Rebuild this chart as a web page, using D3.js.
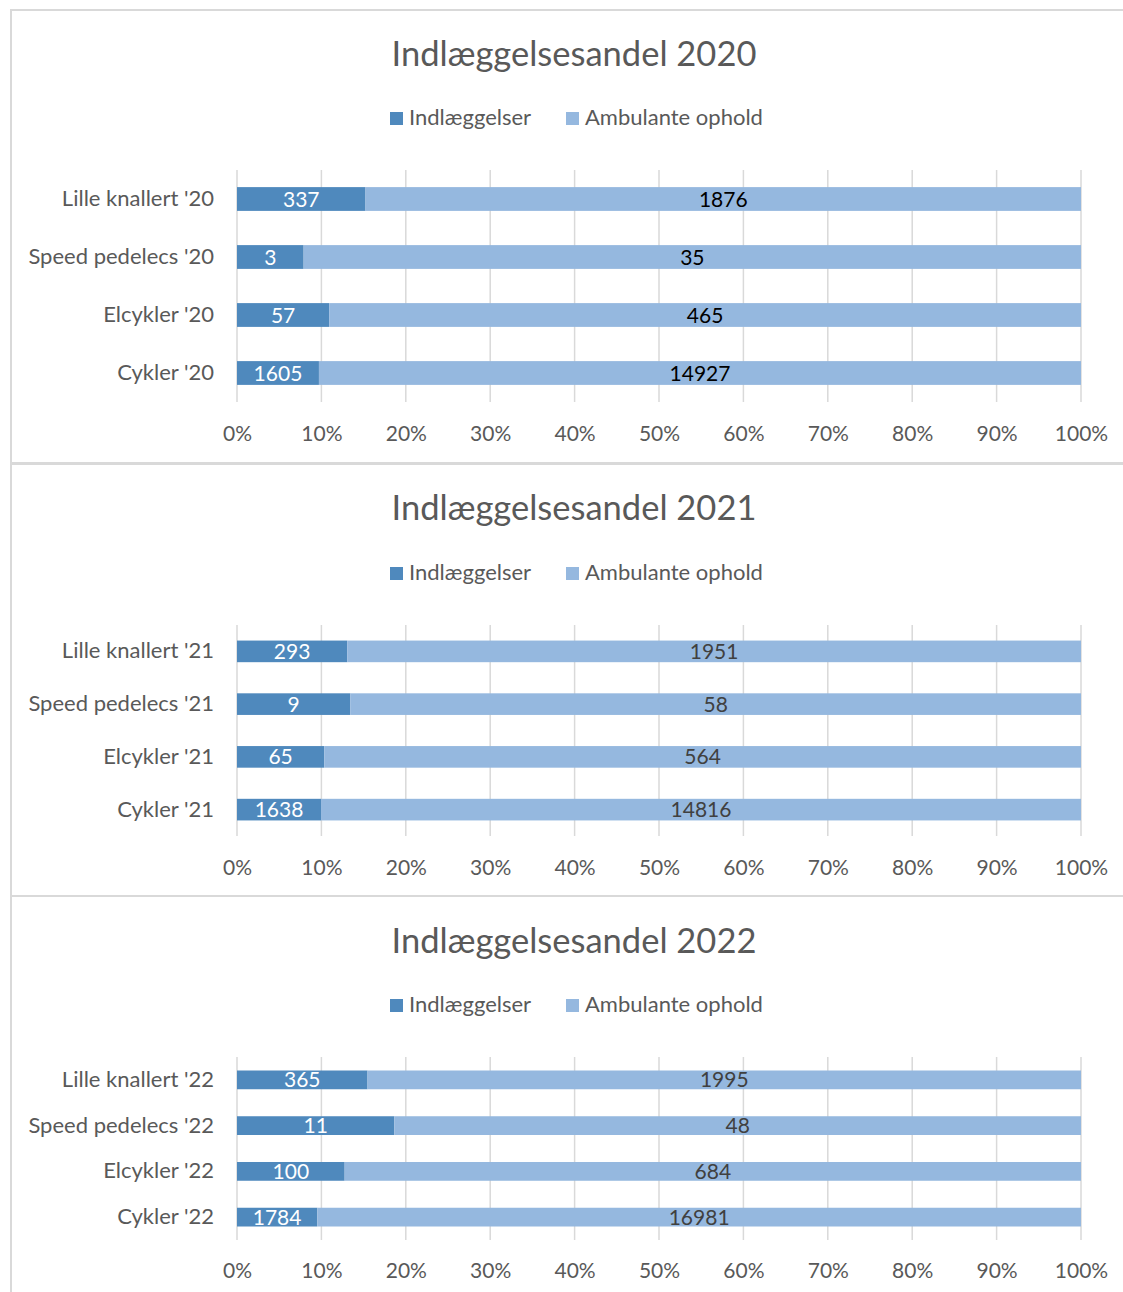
<!doctype html>
<html lang="da">
<head>
<meta charset="utf-8" />
<title>Indlæggelsesandel</title>
<script src="https://d3js.org/d3.v7.min.js"></script>
<style>
  body { margin: 0; background: #fff; }
  svg { display: block; font-family: "Lato", "Open Sans", sans-serif; }
</style>
</head>
<body>
<div id="chart"></div>
<script>
// data
const years = ["2020", "2021", "2022"];
const categories = ["Lille knallert", "Speed pedelecs", "Elcykler", "Cykler"];
const indlaeggelser2020 = [337, 3, 57, 1605];
const ambulante2020 = [1876, 35, 465, 14927];
const indlaeggelser2021 = [293, 9, 65, 1638];
const ambulante2021 = [1951, 58, 564, 14816];
const indlaeggelser2022 = [365, 11, 100, 1784];
const ambulante2022 = [1995, 48, 684, 16981];
const seriesNames = ["Indlæggelser", "Ambulante ophold"];
const tickLabels = [0, 0.1, 0.2, 0.3, 0.4, 0.5, 0.6, 0.7, 0.8, 0.9, 1];

const W = 1123, H = 1292;
const colors = ["#4f89bd", "#95b8df"];
const grey = "#595959";

const svg = d3.select("#chart").append("svg")
  .attr("width", W).attr("height", H);

// each panel: top/bottom of box, title y, legend y, plot band range, tick label y, light label colour
const panels = [
  { year: "2020", ind: indlaeggelser2020, amb: ambulante2020, box: [10, 463], title: 66, legend: 118, band: [170, 402], tick: 434, lightText: "#000" },
  { year: "2021", ind: indlaeggelser2021, amb: ambulante2021, box: [464, 896], title: 520, legend: 573, band: [625, 836], tick: 868, lightText: "#404040" },
  { year: "2022", ind: indlaeggelser2022, amb: ambulante2022, box: [896, 1300], title: 953, legend: 1005, band: [1057, 1240], tick: 1271, lightText: "#404040" }
];

const x = d3.scaleLinear().domain([0, 1]).range([237, 1081]);

panels.forEach(p => {
  const g = svg.append("g");

  g.append("rect")
    .attr("x", 11).attr("y", p.box[0])
    .attr("width", W).attr("height", p.box[1] - p.box[0])
    .attr("fill", "none").attr("stroke", "#d9d9d9").attr("stroke-width", 2);

  g.append("text")
    .attr("x", 574).attr("y", p.title)
    .attr("text-anchor", "middle")
    .attr("fill", grey)
    .style("font-size", "34.5px")
    .text("Indlæggelsesandel " + p.year);

  // legend
  const legX = [390, 566];
  seriesNames.forEach((s, i) => {
    g.append("rect")
      .attr("x", legX[i]).attr("y", p.legend - 6)
      .attr("width", 13).attr("height", 13)
      .attr("fill", colors[i]);
    g.append("text")
      .attr("x", legX[i] + 19).attr("y", p.legend + 7)
      .attr("fill", grey)
      .style("font-size", "22px")
      .text(s);
  });

  const rows = categories.map((c, i) => ({
    cat: c + " '" + p.year.slice(2),
    ind: p.ind[i],
    amb: p.amb[i]
  }));

  const y = d3.scaleBand()
    .domain(rows.map(d => d.cat))
    .range(p.band)
    .paddingInner(0.59).paddingOuter(0.295);

  // gridlines
  g.append("g")
    .selectAll("line")
    .data(tickLabels)
    .join("line")
    .attr("x1", d => x(d)).attr("x2", d => x(d))
    .attr("y1", p.band[0]).attr("y2", p.band[1])
    .attr("stroke", "#d9d9d9").attr("stroke-width", 1.5);

  const stacked = d3.stack()
    .keys(["ind", "amb"])
    .offset(d3.stackOffsetExpand)(rows);

  stacked.forEach((layer, li) => {
    const lg = g.append("g");
    lg.selectAll("rect")
      .data(layer)
      .join("rect")
      .attr("x", d => x(d[0]))
      .attr("y", d => y(d.data.cat))
      .attr("width", d => x(d[1]) - x(d[0]))
      .attr("height", y.bandwidth())
      .attr("fill", colors[li]);
    lg.selectAll("text")
      .data(layer)
      .join("text")
      .attr("x", d => (x(d[0]) + x(d[1])) / 2)
      .attr("y", d => y(d.data.cat) + y.bandwidth() / 2 + 7.5)
      .attr("text-anchor", "middle")
      .attr("fill", li === 0 ? "#fff" : p.lightText)
      .style("font-size", "21px")
      .text(d => d.data[layer.key]);
  });

  // category axis
  const yAxis = g.append("g")
    .attr("transform", "translate(237,0)")
    .call(d3.axisLeft(y).tickSize(0).tickPadding(23));
  yAxis.select(".domain").remove();
  yAxis.selectAll("text")
    .attr("fill", grey)
    .style("font-size", "22px")
    .style("font-family", "Lato, 'Open Sans', sans-serif");

  // percentage axis
  const xAxis = g.append("g")
    .attr("transform", `translate(0,${p.tick})`)
    .call(d3.axisBottom(x).tickValues(tickLabels).tickFormat(d3.format(".0%")).tickSize(0).tickPadding(0));
  xAxis.select(".domain").remove();
  xAxis.selectAll("text")
    .attr("dy", "0.35em")
    .attr("fill", grey)
    .style("font-size", "21px")
    .style("font-family", "Lato, 'Open Sans', sans-serif");
});
</script>
</body>
</html>
